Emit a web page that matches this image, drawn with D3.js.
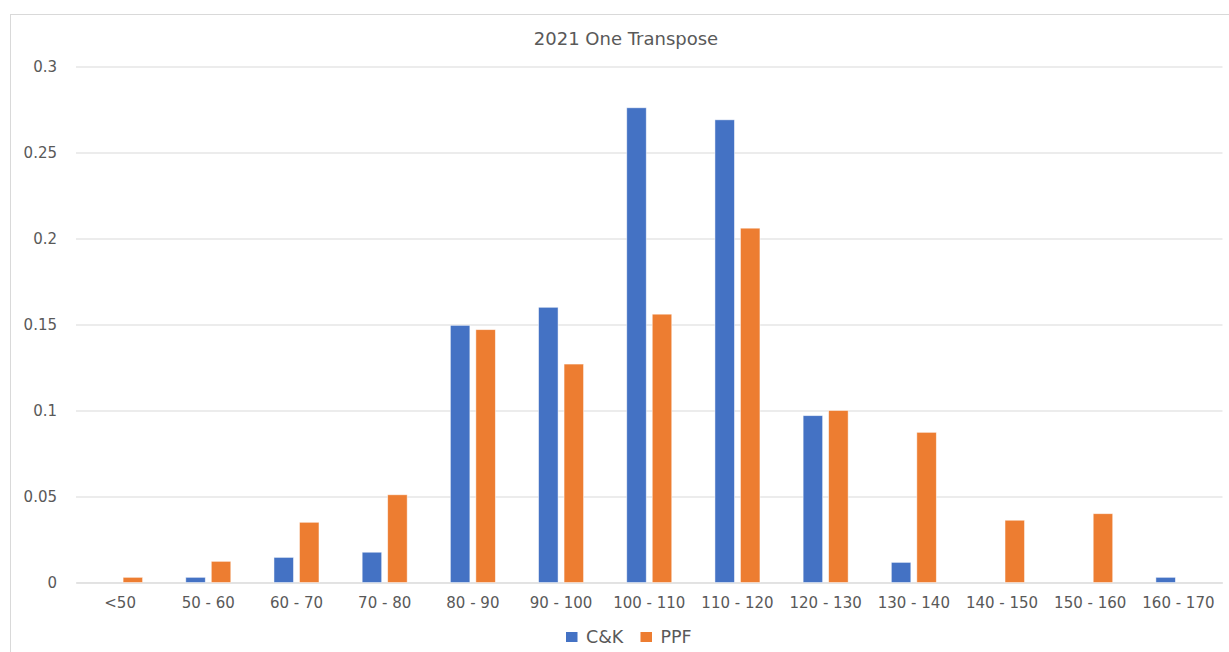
<!DOCTYPE html>
<html>
<head>
<meta charset="utf-8">
<script src="https://cdn.jsdelivr.net/npm/d3@7"></script>
<style>
  html, body { margin: 0; padding: 0; background: #fff; }
  svg { display: block; }
  text { font-family: "DejaVu Sans", "Noto Sans", sans-serif; fill: #595959; }
</style>
</head>
<body>
<svg id="chart" width="1229" height="652"></svg>
<script>
// Score bins and the share of runs falling in each bin
const categories = ["<50", "50 - 60", "60 - 70", "70 - 80", "80 - 90", "90 - 100", "100 - 110",
                    "110 - 120", "120 - 130", "130 - 140", "140 - 150", "150 - 160", "160 - 170"];
const ckValues  = [0, 0.003, 0.0146, 0.0176, 0.1495, 0.160, 0.276, 0.269, 0.097, 0.0117, 0, 0, 0.003];
const ppfValues = [0.003, 0.0123, 0.035, 0.051, 0.147, 0.127, 0.156, 0.206, 0.100, 0.0873, 0.0362, 0.040, 0];
const seriesNames = ["C&K", "PPF"];
const yTicks = [0, 0.05, 0.1, 0.15, 0.2, 0.25, 0.3];
const titleText = "2021 One Transpose";

const colors = { "C&K": "#4472C4", "PPF": "#ED7D31" };

const svg = d3.select("#chart");
const margin = { left: 76, right: 1229 - 1222.5, top: 66.5, bottom: 652 - 582.5 };
const W = 1229, H = 652;

// Chart area outline
svg.append("rect")
  .attr("x", 10.5).attr("y", 14.5)
  .attr("width", 1240).attr("height", 700)
  .attr("fill", "none").attr("stroke", "#d9d9d9").attr("stroke-width", 1);

const x = d3.scaleBand()
  .domain(categories)
  .range([margin.left, W - margin.right])
  .paddingInner(0).paddingOuter(0);

const y = d3.scaleLinear()
  .domain([0, 0.3])
  .range([H - margin.bottom, margin.top]);

// Horizontal gridlines
const yAxis = d3.axisLeft(y)
  .tickValues(yTicks)
  .tickSize(-(W - margin.right - margin.left))
  .tickPadding(19)
  .tickFormat(d => d3.format("~g")(d));

const gy = svg.append("g")
  .attr("transform", `translate(${margin.left},0)`)
  .call(yAxis);
gy.select(".domain").remove();
gy.selectAll(".tick line").attr("stroke", "#d9d9d9").attr("stroke-width", 1);
gy.selectAll(".tick text")
  .style("font-size", "15px")
  .attr("fill", "#595959");

// Category axis
const xAxis = d3.axisBottom(x).tickSize(0).tickPadding(15);
const gx = svg.append("g")
  .attr("transform", `translate(0,${y(0)})`)
  .call(xAxis);
gx.select(".domain").attr("stroke", "#d9d9d9");
gx.selectAll(".tick text").style("font-size", "15px").attr("fill", "#595959");

// Grouped bars
const barW = 19.5, innerGap = 6;
const sub = d3.scaleOrdinal()
  .domain(seriesNames)
  .range([-(innerGap / 2 + barW), innerGap / 2]);

const rows = categories.map((c, i) => ({ cat: c, vals: [
  { name: "C&K", v: ckValues[i] },
  { name: "PPF", v: ppfValues[i] }
]}));

const groups = svg.append("g").selectAll("g")
  .data(rows).join("g")
  .attr("transform", d => `translate(${x(d.cat) + x.bandwidth() / 2},0)`);

groups.selectAll("rect")
  .data(d => d.vals.filter(e => e.v > 0))
  .join("rect")
  .attr("x", d => sub(d.name))
  .attr("y", d => y(d.v))
  .attr("width", barW)
  .attr("height", d => y(0) - y(d.v))
  .attr("fill", d => colors[d.name])
  .attr("stroke", "rgba(255,255,255,0.6)")
  .attr("stroke-width", 0.8);

// Title
svg.append("text")
  .attr("x", 626).attr("y", 44.5)
  .attr("text-anchor", "middle")
  .style("font-size", "18px")
  .text(titleText);

// Legend
const legend = svg.append("g").attr("transform", "translate(566,637)");
const legendX = [0, 74.5];
seriesNames.forEach((n, i) => {
  const g = legend.append("g").attr("transform", `translate(${legendX[i]},0)`);
  g.append("rect").attr("x", 0).attr("y", -5).attr("width", 11.5).attr("height", 10)
    .attr("fill", colors[n]);
  g.append("text").attr("x", 20).attr("y", 0).attr("dy", "0.36em")
    .style("font-size", "17.5px").text(n);
});
</script>
</body>
</html>
